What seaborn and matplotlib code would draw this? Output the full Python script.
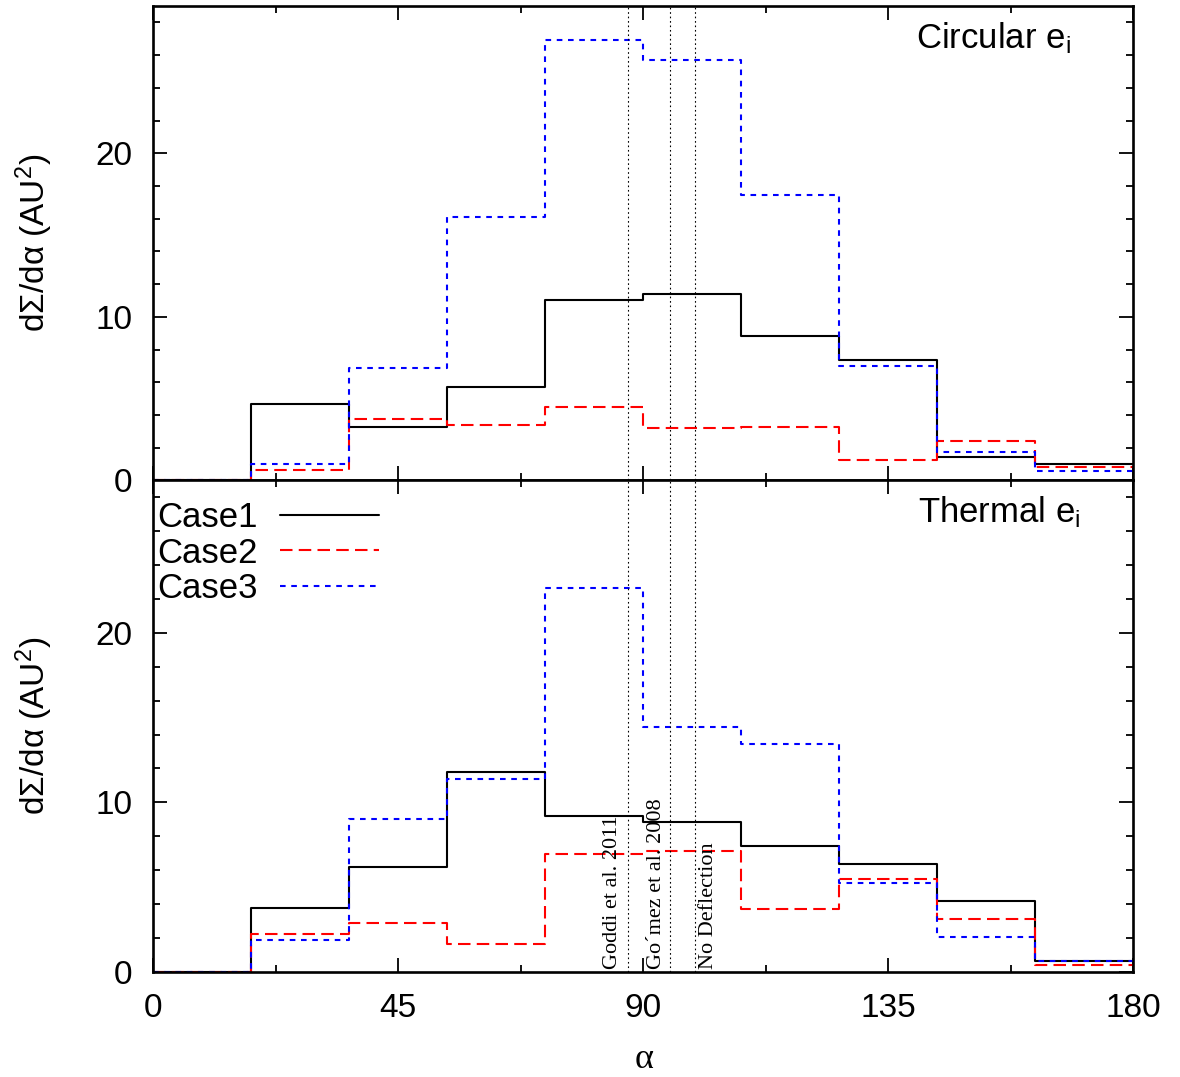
import numpy as np
import pandas as pd
import matplotlib
matplotlib.use("Agg")
import matplotlib.pyplot as plt
from matplotlib.ticker import MultipleLocator
import seaborn as sns

# bin edges of the scattering angle alpha (degrees)
alpha_edges = [0, 18, 36, 54, 72, 90, 108, 126, 144, 162, 180]
cases = ["Case1", "Case2", "Case3"]

# dSigma/dalpha per bin, circular initial eccentricity
circ_case1 = [0, 4.67, 3.24, 5.73, 11.03, 11.42, 8.81, 7.34, 1.43, 1.02]
circ_case2 = [0, 0.67, 3.77, 3.40, 4.50, 3.20, 3.26, 1.27, 2.39, 0.82]
circ_case3 = [0, 1.02, 6.87, 16.13, 26.95, 25.69, 17.43, 6.99, 1.73, 0.55]

# dSigma/dalpha per bin, thermal initial eccentricity
therm_case1 = [0, 3.74, 6.20, 11.80, 9.20, 8.85, 7.42, 6.34, 4.19, 0.65]
therm_case2 = [0, 2.22, 2.87, 1.63, 6.94, 7.14, 3.70, 5.45, 3.09, 0.40]
therm_case3 = [0, 1.87, 8.99, 11.37, 22.68, 14.42, 13.42, 5.25, 2.07, 0.63]

# reference angles
ref_angles = [87.2, 94.9, 99.4]
ref_labels = ["Goddi et al. 2011", "Go\u00b4mez et al. 2008", "No Deflection"]
ref_text_x = [84.3, 92.5, 101.9]


def to_frame(series):
    rows = []
    for name, vals in zip(cases, series):
        # repeat the last value so the step closes at 180
        for x, v in zip(alpha_edges, list(vals) + [vals[-1]]):
            rows.append({"alpha": x, "value": v, "case": name})
    return pd.DataFrame(rows)


sns.set_style("ticks")
plt.rcParams["font.family"] = ["Liberation Sans", "DejaVu Sans"]
plt.rcParams["mathtext.default"] = "regular"
plt.rcParams["text.color"] = "black"
plt.rcParams["axes.labelcolor"] = "black"
plt.rcParams["xtick.color"] = "black"
plt.rcParams["ytick.color"] = "black"
plt.rcParams["axes.edgecolor"] = "black"

palette = {"Case1": "black", "Case2": "red", "Case3": "blue"}
dashes = {"Case1": "", "Case2": (6, 3), "Case3": (2.7, 2.7)}

fig = plt.figure(figsize=(11.8, 10.77), dpi=100)
gs = fig.add_gridspec(2, 1, height_ratios=[474, 490.7], hspace=0,
                      left=0.13, right=0.9604, top=0.9944, bottom=0.0978)
ax1 = fig.add_subplot(gs[0])
ax2 = fig.add_subplot(gs[1], sharex=ax1)

panels = [(ax1, [circ_case1, circ_case2, circ_case3], "Circular e$_{i}$", 0.778, 0.911),
          (ax2, [therm_case1, therm_case2, therm_case3], "Thermal e$_{i}$", 0.780, 0.915)]

for ax, series, title, tx, ty in panels:
    df = to_frame(series)
    sns.lineplot(data=df, x="alpha", y="value", hue="case", style="case",
                 palette=palette, dashes=dashes, drawstyle="steps-post",
                 estimator=None, linewidth=1.5, legend=False, ax=ax)
    ax.set_xlim(0, 180)
    ax.set_ylim(0, 29)
    ax.xaxis.set_major_locator(MultipleLocator(45))
    ax.xaxis.set_minor_locator(MultipleLocator(22.5))
    ax.yaxis.set_major_locator(MultipleLocator(10))
    ax.yaxis.set_minor_locator(MultipleLocator(2))
    ax.tick_params(which="both", direction="in", top=True, right=True,
                   labelsize=24, pad=15)
    ax.tick_params(which="major", length=10, width=1.3)
    ax.tick_params(which="minor", length=5, width=1.3)
    for s in ax.spines.values():
        s.set_linewidth(1.9)
    ax.set_xlabel("")
    ax.set_ylabel("d\u03a3/d\u03b1 (AU$^{2}$)", fontsize=24)
    ax.yaxis.set_label_coords(-0.10, 0.5)
    ax.text(tx, ty, title, transform=ax.transAxes, fontsize=25,
            ha="left", va="baseline")

handles = ax2.get_lines()[:3]
ax2.legend(handles, cases, loc="upper left", bbox_to_anchor=(0, 0.965),
           markerfirst=False, frameon=False, fontsize=25, borderaxespad=0,
           borderpad=0.1, handlelength=2.85, handletextpad=0.65,
           labelspacing=0.07)

for ax in (ax1, ax2):
    for a in ref_angles:
        ax.axvline(a, color="black", lw=0.8, ls=(0, (1.5, 2.5)))

for x, lab in zip(ref_text_x, ref_labels):
    ax2.text(x, 0.15, lab, rotation=90, ha="center", va="bottom",
             fontsize=16, family=["Liberation Serif", "DejaVu Serif"])

ax1.tick_params(labelbottom=False)
fig.text(644 / 1180, 1 - 1060 / 1077, "\u03b1", ha="center", va="center",
         fontsize=26, family=["Liberation Serif", "DejaVu Serif"])

plt.savefig("out.png", dpi=100)
plt.close()
